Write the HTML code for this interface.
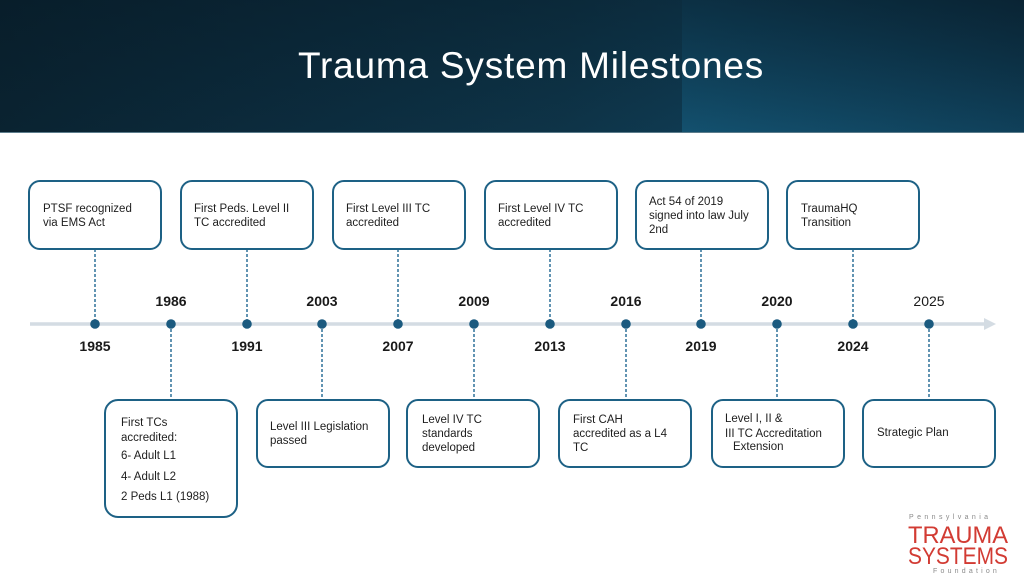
<!DOCTYPE html>
<html>
<head>
<meta charset="utf-8">
<style>
  html,body{margin:0;padding:0;}
  body{width:1024px;height:576px;position:relative;overflow:hidden;background:#ffffff;font-family:"Liberation Sans",Arial,sans-serif;}
  .hdr{position:absolute;left:0;top:0;width:1024px;height:133px;
    background:linear-gradient(90deg,#0a2331 0%,#0c2c3e 30%,#0e3448 55%,#0f3a51 67%,#0e3a52 100%);}
  .hdr2{position:absolute;left:0;top:0;width:1024px;height:133px;
    background:linear-gradient(180deg,rgba(5,20,30,0.35) 0%,rgba(5,20,30,0) 100%);}
  .panel{position:absolute;left:682px;top:0;width:342px;height:133px;
    background:linear-gradient(200deg,#0c2d40 0%,#0f3e57 45%,#13516f 100%);}
  .hline{position:absolute;left:0;top:132px;width:1024px;height:1px;background:#5d7d8c;}
  .title{position:absolute;left:0;top:47px;width:1062px;text-align:center;color:#ffffff;font-size:37px;line-height:37px;letter-spacing:0.8px;white-space:nowrap;}
</style>
</head>
<body>
<div class="hdr"></div>
<div class="panel"></div>
<div class="hdr2"></div>
<div class="hline"></div>
<div class="title">Trauma System Milestones</div>

<svg width="1024" height="576" style="position:absolute;left:0;top:0" xmlns="http://www.w3.org/2000/svg">
  <!-- timeline -->
  <line x1="30" y1="324" x2="986" y2="324" stroke="#d4dce3" stroke-width="3.5"/>
  <polygon points="984,318 996,324 984,330" fill="#d4dce3"/>

  <!-- connectors -->
  <g stroke="#2f7199" stroke-width="1.5" stroke-dasharray="3,2" fill="none">
    <line x1="95" y1="249" x2="95" y2="324"/>
    <line x1="247" y1="249" x2="247" y2="324"/>
    <line x1="398" y1="249" x2="398" y2="324"/>
    <line x1="550" y1="249" x2="550" y2="324"/>
    <line x1="701" y1="249" x2="701" y2="324"/>
    <line x1="853" y1="249" x2="853" y2="324"/>
    <line x1="171" y1="324" x2="171" y2="400"/>
    <line x1="322" y1="324" x2="322" y2="400"/>
    <line x1="474" y1="324" x2="474" y2="400"/>
    <line x1="626" y1="324" x2="626" y2="400"/>
    <line x1="777" y1="324" x2="777" y2="400"/>
    <line x1="929" y1="324" x2="929" y2="400"/>
  </g>

  <!-- dots -->
  <g fill="#1b5a7f">
    <circle cx="95" cy="324" r="4.8"/>
    <circle cx="171" cy="324" r="4.8"/>
    <circle cx="247" cy="324" r="4.8"/>
    <circle cx="322" cy="324" r="4.8"/>
    <circle cx="398" cy="324" r="4.8"/>
    <circle cx="474" cy="324" r="4.8"/>
    <circle cx="550" cy="324" r="4.8"/>
    <circle cx="626" cy="324" r="4.8"/>
    <circle cx="701" cy="324" r="4.8"/>
    <circle cx="777" cy="324" r="4.8"/>
    <circle cx="853" cy="324" r="4.8"/>
    <circle cx="929" cy="324" r="4.8"/>
  </g>

  <!-- year labels -->
  <g font-family="Liberation Sans, Arial, sans-serif" font-size="14" font-weight="bold" fill="#1a1a1a" text-anchor="middle">
    <text x="95" y="351">1985</text>
    <text x="247" y="351">1991</text>
    <text x="398" y="351">2007</text>
    <text x="550" y="351">2013</text>
    <text x="701" y="351">2019</text>
    <text x="853" y="351">2024</text>
    <text x="171" y="306">1986</text>
    <text x="322" y="306">2003</text>
    <text x="474" y="306">2009</text>
    <text x="626" y="306">2016</text>
    <text x="777" y="306">2020</text>
  </g>
  <text x="929" y="306" font-family="Liberation Sans, Arial, sans-serif" font-size="14" fill="#1a1a1a" text-anchor="middle">2025</text>

  <!-- boxes -->
  <g fill="#ffffff" stroke="#1d6185" stroke-width="2">
    <rect x="29" y="181" width="132" height="68" rx="11"/>
    <rect x="181" y="181" width="132" height="68" rx="11"/>
    <rect x="333" y="181" width="132" height="68" rx="11"/>
    <rect x="485" y="181" width="132" height="68" rx="11"/>
    <rect x="636" y="181" width="132" height="68" rx="11"/>
    <rect x="787" y="181" width="132" height="68" rx="11"/>
    <rect x="105" y="400" width="132" height="117" rx="13"/>
    <rect x="257" y="400" width="132" height="67" rx="11"/>
    <rect x="407" y="400" width="132" height="67" rx="11"/>
    <rect x="559" y="400" width="132" height="67" rx="11"/>
    <rect x="712" y="400" width="132" height="67" rx="11"/>
    <rect x="863" y="400" width="132" height="67" rx="11"/>
  </g>

  <!-- box text -->
  <g font-family="Liberation Sans, Arial, sans-serif" font-size="11.5" fill="#1e1e1e">
    <text x="43" y="212">PTSF recognized</text>
    <text x="43" y="226">via EMS Act</text>

    <text x="194" y="212">First Peds. Level II</text>
    <text x="194" y="226">TC accredited</text>

    <text x="346" y="212">First Level III TC</text>
    <text x="346" y="226">accredited</text>

    <text x="498" y="212">First Level IV TC</text>
    <text x="498" y="226">accredited</text>

    <text x="649" y="205">Act 54 of 2019</text>
    <text x="649" y="219">signed into law July</text>
    <text x="649" y="233">2nd</text>

    <text x="801" y="212">TraumaHQ</text>
    <text x="801" y="226">Transition</text>

    <text x="121" y="426">First TCs</text>
    <text x="121" y="441">accredited:</text>
    <text x="121" y="459">6- Adult L1</text>
    <text x="121" y="480">4- Adult L2</text>
    <text x="121" y="500">2 Peds L1 (1988)</text>

    <text x="270" y="430">Level III Legislation</text>
    <text x="270" y="444">passed</text>

    <text x="422" y="423">Level IV TC</text>
    <text x="422" y="437">standards</text>
    <text x="422" y="451">developed</text>

    <text x="573" y="423">First CAH</text>
    <text x="573" y="437">accredited as a L4</text>
    <text x="573" y="451">TC</text>

    <text x="725" y="422">Level I, II &amp;</text>
    <text x="725" y="437">III TC Accreditation</text>
    <text x="733" y="450">Extension</text>

    <text x="877" y="436">Strategic Plan</text>
  </g>

  <!-- logo -->
  <g font-family="Liberation Sans, Arial, sans-serif" text-anchor="start">
    <text x="909" y="519" font-size="7" fill="#8a8a8a" letter-spacing="3.4">Pennsylvania</text>
    <text x="908" y="543" font-size="24" fill="#d23b33" textLength="100" lengthAdjust="spacingAndGlyphs">TRAUMA</text>
    <text x="908" y="564" font-size="24" fill="#d23b33" textLength="100" lengthAdjust="spacingAndGlyphs">SYSTEMS</text>
    <text x="933" y="573" font-size="7" fill="#8a8a8a" letter-spacing="3.2">Foundation</text>
  </g>
</svg>
</body>
</html>
